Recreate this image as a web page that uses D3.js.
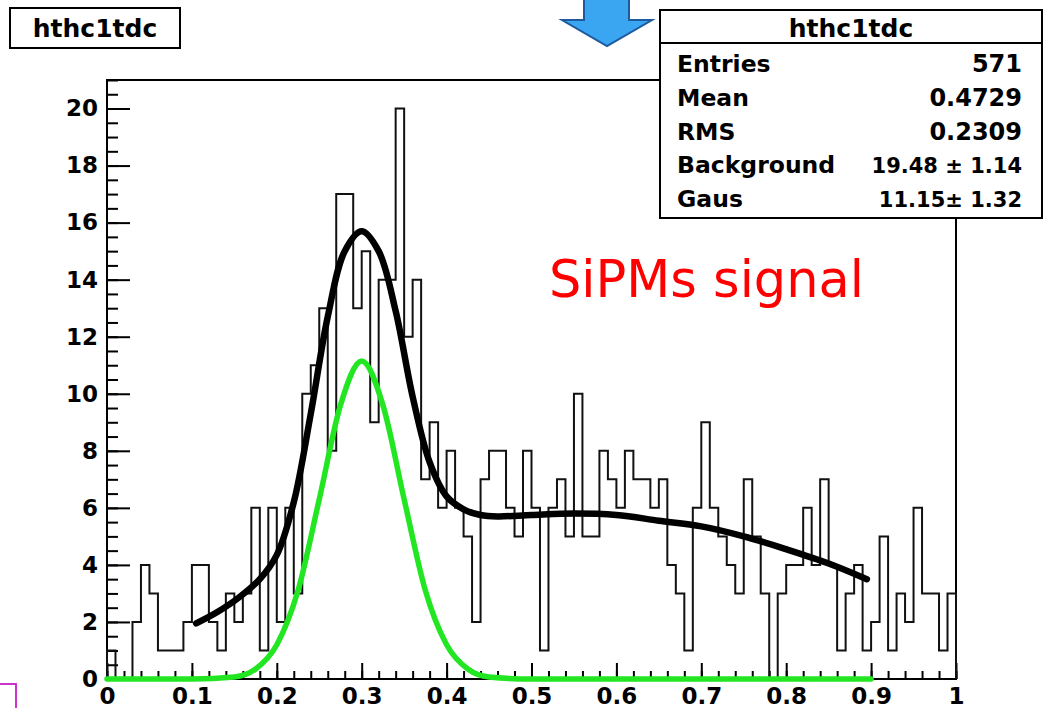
<!DOCTYPE html>
<html>
<head>
<meta charset="utf-8">
<script src="https://cdn.jsdelivr.net/npm/d3@7/dist/d3.min.js"></script>
<style>
  body { margin: 0; background: #fff; }
  svg { display: block; }
  .axis text { font-family: 'DejaVu Sans', sans-serif; font-weight: bold; font-size: 23px; fill: #000; }
  .axis line { stroke: #000; stroke-width: 2; }
  .box-text { font-family: 'DejaVu Sans', sans-serif; font-weight: bold; fill: #000; }
</style>
</head>
<body>
<div id="chart"></div>
<script>
// histogram hthc1tdc: 100 bins over [0, 1]
const binCounts = [
    1, 0, 0, 2, 4, 3, 1, 1, 1, 2,
    4, 4, 2, 1, 3, 2, 3, 6, 1, 6,
    2, 6, 3, 10, 11, 13, 8, 17, 17, 13,
    15, 9, 14, 14, 20, 12, 14, 7, 9, 6,
    8, 6, 5, 2, 7, 8, 8, 6, 5, 8,
    6, 1, 6, 7, 5, 10, 5, 5, 8, 7,
    6, 8, 7, 7, 6, 7, 4, 3, 1, 6,
    9, 6, 5, 4, 3, 7, 5, 3, 0, 3,
    4, 4, 6, 4, 7, 4, 1, 3, 4, 1,
    2, 5, 1, 3, 2, 6, 3, 3, 1, 3
];
const xRange = [0, 1];
const yRange = [0, 21];

const xTickValues = [0, 0.1, 0.2, 0.3, 0.4, 0.5, 0.6, 0.7, 0.8, 0.9, 1];
const xTickLabels = ['0', '0.1', '0.2', '0.3', '0.4', '0.5', '0.6', '0.7', '0.8', '0.9', '1'];
const yTickValues = [0, 2, 4, 6, 8, 10, 12, 14, 16, 18, 20];
const yTickLabels = ['0', '2', '4', '6', '8', '10', '12', '14', '16', '18', '20'];

// total fit (background + gaus)
const fitTotalX = [0.105, 0.13, 0.155, 0.18, 0.20, 0.22, 0.24, 0.26, 0.28, 0.30, 0.32, 0.34, 0.36, 0.38, 0.40,
    0.42, 0.44, 0.46, 0.50, 0.55, 0.60, 0.65, 0.70, 0.75, 0.80, 0.85, 0.895];
const fitTotalY = [1.95, 2.35, 2.85, 3.5, 4.35, 6.2, 9.3, 12.7, 15.0, 15.7, 15.0, 12.9, 9.9, 7.6, 6.4,
    5.95, 5.75, 5.7, 5.75, 5.8, 5.75, 5.55, 5.35, 5.0, 4.55, 4.05, 3.5];

// gaus component
const fitGausX = [0, 0.10, 0.15, 0.175, 0.20, 0.225, 0.25, 0.275, 0.30, 0.325, 0.35, 0.375, 0.40, 0.425, 0.45, 0.50, 0.90];
const fitGausY = [0, 0, 0.07, 0.35, 1.2, 3.1, 6.3, 9.6, 11.15, 9.6, 6.3, 3.1, 1.2, 0.35, 0.07, 0, 0];

const histName = 'hthc1tdc';
const statLabels = ['Entries', 'Mean', 'RMS', 'Background', 'Gaus'];
const statValues = ['571', '0.4729', '0.2309', '19.48 \u00b1 1.14', '11.15\u00b1 1.32'];
const annotation = 'SiPMs signal';

class rootHist {
    constructor(_config) {
        this.config = {
            parentElement: _config.parentElement,
            containerWidth: _config.containerWidth || 1045,
            containerHeight: _config.containerHeight || 708,
            margin: _config.margin || {top: 80, right: 89, bottom: 29, left: 107}
        };
        this.initVis();
    }

    initVis() {
        let vis = this;
        vis.width = vis.config.containerWidth - vis.config.margin.left - vis.config.margin.right;
        vis.height = vis.config.containerHeight - vis.config.margin.top - vis.config.margin.bottom;

        vis.svg = d3.select(vis.config.parentElement)
            .append('svg')
            .attr('width', vis.config.containerWidth)
            .attr('height', vis.config.containerHeight);

        vis.chart = vis.svg.append('g')
            .attr('transform', `translate(${vis.config.margin.left},${vis.config.margin.top})`);

        vis.xScale = d3.scaleLinear().domain(xRange).range([0, vis.width]);
        vis.yScale = d3.scaleLinear().domain(yRange).range([vis.height, 0]);

        vis.renderVis();
    }

    renderVis() {
        let vis = this;

        // minor ticks first, then major ticks with labels
        const xMinor = d3.range(0, 51).map(i => i * 0.02);
        const yMinor = d3.range(0, 43).map(i => i * 0.5);

        vis.chart.append('g')
            .attr('class', 'axis')
            .attr('transform', `translate(0,${vis.height})`)
            .call(d3.axisBottom(vis.xScale).tickValues(xMinor).tickSize(-8).tickFormat(''));

        vis.chart.append('g')
            .attr('class', 'axis')
            .call(d3.axisLeft(vis.yScale).tickValues(yMinor).tickSize(-11).tickFormat(''));

        vis.chart.append('g')
            .attr('class', 'axis')
            .attr('transform', `translate(0,${vis.height})`)
            .call(d3.axisBottom(vis.xScale)
                .tickValues(xTickValues)
                .tickSize(-16)
                .tickPadding(9)
                .tickFormat((d, i) => xTickLabels[i]));

        vis.chart.append('g')
            .attr('class', 'axis')
            .call(d3.axisLeft(vis.yScale)
                .tickValues(yTickValues)
                .tickSize(-23)
                .tickPadding(9)
                .tickFormat((d, i) => yTickLabels[i]));

        vis.chart.selectAll('.axis').attr('font-family', null).attr('font-size', null);
        vis.chart.selectAll('.axis .domain').remove();

        // frame
        vis.chart.append('rect')
            .attr('width', vis.width)
            .attr('height', vis.height)
            .attr('fill', 'none')
            .attr('stroke', '#000')
            .attr('stroke-width', 2);

        // histogram outline
        const binW = (xRange[1] - xRange[0]) / binCounts.length;
        const steps = [[xRange[0], 0]]
            .concat(binCounts.map((c, i) => [xRange[0] + i * binW, c]))
            .concat([[xRange[1], 0]]);

        const stepLine = d3.line()
            .x(d => vis.xScale(d[0]))
            .y(d => vis.yScale(d[1]))
            .curve(d3.curveStepAfter);

        vis.chart.append('path')
            .datum(steps)
            .attr('d', stepLine)
            .attr('fill', 'none')
            .attr('stroke', '#111')
            .attr('stroke-width', 2);

        // fit curves
        const gausLine = d3.line()
            .x(d => vis.xScale(d[0]))
            .y(d => vis.yScale(d[1]))
            .curve(d3.curveMonotoneX);

        const totalLine = d3.line()
            .x(d => vis.xScale(d[0]))
            .y(d => vis.yScale(d[1]))
            .curve(d3.curveCatmullRom.alpha(0.5));

        vis.chart.append('path')
            .datum(d3.zip(fitGausX, fitGausY))
            .attr('d', gausLine)
            .attr('fill', 'none')
            .attr('stroke', '#22e622')
            .attr('stroke-width', 5.5)
            .attr('stroke-linecap', 'round');

        vis.chart.append('path')
            .datum(d3.zip(fitTotalX, fitTotalY))
            .attr('d', totalLine)
            .attr('fill', 'none')
            .attr('stroke', '#000')
            .attr('stroke-width', 6.5)
            .attr('stroke-linecap', 'round');

        // red annotation
        vis.svg.append('text')
            .attr('x', 549)
            .attr('y', 297)
            .attr('font-family', "'DejaVu Sans', sans-serif")
            .attr('font-size', 51)
            .attr('fill', '#ff0000')
            .text(annotation);

        // blue arrow above the plot
        vis.svg.append('path')
            .attr('d', 'M584,-2 L629,-2 L629,20 L652,20 L607,46 L562,20 L584,20 Z')
            .attr('fill', '#3aa6f2')
            .attr('stroke', '#1d5a9e')
            .attr('stroke-width', 2);

        // title box
        vis.svg.append('rect')
            .attr('x', 10).attr('y', 8)
            .attr('width', 170).attr('height', 40)
            .attr('fill', '#fff')
            .attr('stroke', '#000')
            .attr('stroke-width', 2);
        vis.svg.append('text')
            .attr('class', 'box-text')
            .attr('x', 95).attr('y', 37)
            .attr('font-size', 25)
            .attr('text-anchor', 'middle')
            .text(histName);

        // stats box
        const sb = {x: 660, y: 10, w: 382, h: 208};
        vis.svg.append('rect')
            .attr('x', sb.x).attr('y', sb.y)
            .attr('width', sb.w).attr('height', sb.h)
            .attr('fill', '#fff')
            .attr('stroke', '#000')
            .attr('stroke-width', 2);
        vis.svg.append('line')
            .attr('x1', sb.x).attr('x2', sb.x + sb.w)
            .attr('y1', 43).attr('y2', 43)
            .attr('stroke', '#000')
            .attr('stroke-width', 2);
        vis.svg.append('text')
            .attr('class', 'box-text')
            .attr('x', sb.x + sb.w / 2).attr('y', 37)
            .attr('font-size', 25)
            .attr('text-anchor', 'middle')
            .text(histName);

        const rowY = d3.scaleLinear().domain([0, statLabels.length - 1]).range([72, 207]);

        vis.svg.selectAll('.stat-label')
            .data(statLabels)
            .join('text')
            .attr('class', 'box-text stat-label')
            .attr('x', 677)
            .attr('y', (d, i) => rowY(i))
            .attr('font-size', 23.5)
            .text(d => d);

        vis.svg.selectAll('.stat-value')
            .data(statValues)
            .join('text')
            .attr('class', 'box-text stat-value')
            .attr('x', 1022)
            .attr('y', (d, i) => rowY(i))
            .attr('font-size', d => d.includes('\u00b1') ? 21 : 24)
            .attr('text-anchor', 'end')
            .text(d => d);

        // partial magenta box at lower left
        vis.svg.append('path')
            .attr('d', 'M0,684 H16 V710')
            .attr('fill', 'none')
            .attr('stroke', '#cc33cc')
            .attr('stroke-width', 2);
    }
}

const chart = new rootHist({parentElement: '#chart'});
</script>
</body>
</html>
